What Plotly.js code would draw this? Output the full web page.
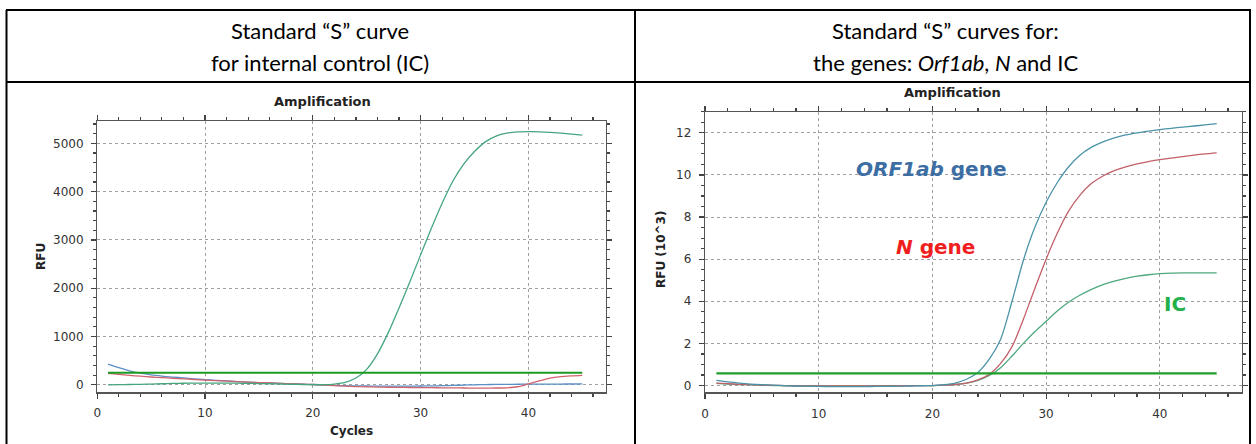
<!DOCTYPE html>
<html><head><meta charset="utf-8">
<script src="https://cdn.plot.ly/plotly-3.0.1.min.js"></script>
<style>html,body{margin:0;padding:0;background:#fff;}#chart{width:1256px;height:444px;}</style>
</head><body><div id="chart"></div>
<script>
const cycles = [1,2,3,4,5,6,7,8,9,10,11,12,13,14,15,16,17,18,19,20,21,22,23,24,25,26,27,28,29,30,31,32,33,34,35,36,37,38,39,40,41,42,43,44,45];
const thresholdCycles = [1, 45];

// Left chart (RFU)
const leftIC = [0,3,6,10,15,22,28,32,35,36,36,35,33,30,26,22,17,12,7,3,2,15,50,140,320,640,1080,1590,2130,2690,3240,3760,4220,4570,4830,5030,5150,5210,5235,5240,5238,5228,5212,5192,5170];
const leftBlue = [430,355,290,240,205,180,160,142,125,108,93,80,68,57,47,38,29,21,13,6,-3,-12,-18,-22,-25,-27,-28,-28,-27,-25,-22,-18,-12,-6,0,5,8,10,12,13,14,15,16,17,18];
const leftRed = [238,215,195,178,162,148,135,122,110,98,87,76,66,56,47,38,30,22,14,6,-5,-18,-28,-36,-42,-47,-50,-53,-56,-58,-60,-62,-64,-66,-67,-67,-66,-62,-40,20,80,140,170,185,195];
const leftThreshold = [250, 250];

// Right chart (RFU x10^3)
const rightORF1ab = [0.25,0.18,0.12,0.07,0.04,0.02,0.0,-0.02,-0.03,-0.04,-0.05,-0.05,-0.05,-0.05,-0.04,-0.04,-0.03,-0.02,-0.01,0.0,0.04,0.12,0.3,0.62,1.25,2.2,4.0,5.95,7.5,8.7,9.65,10.4,10.95,11.32,11.57,11.76,11.9,12.0,12.08,12.15,12.21,12.27,12.32,12.37,12.43];
const rightN = [0.12,0.09,0.06,0.04,0.02,0.01,0.0,-0.01,-0.02,-0.02,-0.02,-0.02,-0.02,-0.02,-0.02,-0.02,-0.01,-0.01,0.0,0.0,0.02,0.05,0.12,0.27,0.53,1.05,1.85,3.15,4.6,6.0,7.25,8.3,9.05,9.6,9.95,10.2,10.38,10.52,10.63,10.72,10.8,10.87,10.94,11.0,11.05];
const rightIC = [0.1,0.07,0.05,0.03,0.01,0.0,-0.01,-0.02,-0.02,-0.02,-0.02,-0.02,-0.02,-0.02,-0.02,-0.01,-0.01,0.0,0.0,0.0,0.02,0.05,0.12,0.25,0.48,0.85,1.4,2.0,2.55,3.05,3.55,3.97,4.3,4.57,4.79,4.96,5.09,5.19,5.26,5.31,5.34,5.35,5.35,5.35,5.35];
const rightThreshold = [0.58, 0.58];

const headerLeft = ['Standard “S” curve', 'for internal control (IC)'];
const headerRight = ['Standard “S” curves for:', 'the genes: <i>Orf1ab</i>, <i>N</i> and IC'];

const W = 1256, H = 444;
const px = v => v / W;
const py = v => 1 - v / H;

function ln(x, y, color, xa, ya, width) {
  return {x: x, y: y, xaxis: xa, yaxis: ya, type: 'scatter', mode: 'lines',
    line: {color: color, width: width || 1.3, shape: 'spline', smoothing: 0.8}, hoverinfo: 'skip', showlegend: false};
}

const data = [
  ln(cycles, leftBlue, '#5b8fc6', 'x', 'y'),
  ln(cycles, leftRed, '#d0646e', 'x', 'y'),
  ln(cycles, leftIC, '#45a57e', 'x', 'y'),
  {x: thresholdCycles, y: leftThreshold, xaxis: 'x', yaxis: 'y', type: 'scatter', mode: 'lines', line: {color: '#1c9a22', width: 2.2}, showlegend: false, hoverinfo: 'skip'},
  ln(cycles, rightIC, '#4fa87e', 'x2', 'y2'),
  ln(cycles, rightN, '#c2606a', 'x2', 'y2'),
  ln(cycles, rightORF1ab, '#4b93a8', 'x2', 'y2'),
  {x: thresholdCycles, y: rightThreshold, xaxis: 'x2', yaxis: 'y2', type: 'scatter', mode: 'lines', line: {color: '#1f9e2a', width: 2.2}, showlegend: false, hoverinfo: 'skip'}
];

const tickFont = {family: 'DejaVu Sans, Arial', size: 12, color: '#333'};
function axisBase(extra) {
  return Object.assign({
    showline: true, linecolor: '#555', linewidth: 1.2, mirror: 'allticks',
    ticks: 'outside', ticklen: 5, tickcolor: '#444', tickwidth: 1.2,
    showgrid: true, gridcolor: '#a0a0a0', griddash: 'dot', gridwidth: 1,
    zeroline: false, tickfont: tickFont, fixedrange: true
  }, extra);
}

const layout = {
  width: W, height: H,
  margin: {l: 0, r: 0, t: 0, b: 0},
  paper_bgcolor: '#fff', plot_bgcolor: '#fff',
  showlegend: false,
  xaxis: axisBase({domain: [px(97.2), px(606)], range: [0, 47.2], anchor: 'y', tick0: 0, dtick: 10, ticklabelstandoff: 4,
    minor: {dtick: 2, ticklen: 3, ticks: 'outside', tickcolor: '#444', showgrid: false}}),
  yaxis: axisBase({domain: [1 - 392.3 / H, 1 - 120.7 / H], range: [-155, 5468], anchor: 'x', tick0: 0, dtick: 1000, ticklabelstandoff: 5,
    minor: {dtick: 200, ticklen: 3, ticks: 'outside', tickcolor: '#444', showgrid: false}}),
  xaxis2: axisBase({domain: [px(705), px(1241.7)], range: [0, 47.2], anchor: 'y2', tick0: 0, dtick: 10, ticklabelstandoff: 5,
    minor: {dtick: 2, ticklen: 3, ticks: 'outside', tickcolor: '#444', showgrid: false}}),
  yaxis2: axisBase({domain: [1 - 392.3 / H, 1 - 111.7 / H], range: [-0.32, 13.0], anchor: 'x2', tick0: 0, dtick: 2, ticklabelstandoff: 5,
    minor: {dtick: 0.5, ticklen: 3, ticks: 'outside', tickcolor: '#444', showgrid: false}}),
  shapes: [
    {type: 'line', xref: 'paper', yref: 'paper', x0: px(6), x1: px(1251), y0: py(10), y1: py(10), line: {color: '#000', width: 2}},
    {type: 'line', xref: 'paper', yref: 'paper', x0: px(6), x1: px(1251), y0: py(82), y1: py(82), line: {color: '#000', width: 2}},
    {type: 'line', xref: 'paper', yref: 'paper', x0: px(6.5), x1: px(6.5), y0: py(10), y1: 0, line: {color: '#000', width: 2}},
    {type: 'line', xref: 'paper', yref: 'paper', x0: px(635), x1: px(635), y0: py(10), y1: 0, line: {color: '#000', width: 2}},
    {type: 'line', xref: 'paper', yref: 'paper', x0: px(1250), x1: px(1250), y0: py(10), y1: 0, line: {color: '#000', width: 2}}
  ],
  annotations: [
    {text: headerLeft[0], xref: 'paper', yref: 'paper', x: px(320), y: py(31), showarrow: false, xanchor: 'center', yanchor: 'middle', font: {family: 'Lato, Open Sans', size: 22, color: '#000'}},
    {text: headerLeft[1], xref: 'paper', yref: 'paper', x: px(320), y: py(62), showarrow: false, xanchor: 'center', yanchor: 'middle', font: {family: 'Lato, Open Sans', size: 22, color: '#000'}},
    {text: headerRight[0], xref: 'paper', yref: 'paper', x: px(945), y: py(31), showarrow: false, xanchor: 'center', yanchor: 'middle', font: {family: 'Lato, Open Sans', size: 22, color: '#000'}},
    {text: headerRight[1], xref: 'paper', yref: 'paper', x: px(945), y: py(62), showarrow: false, xanchor: 'center', yanchor: 'middle', font: {family: 'Lato, Open Sans', size: 22, color: '#000'}},
    {text: '<b>Amplification</b>', xref: 'paper', yref: 'paper', x: px(322), y: py(101.5), showarrow: false, xanchor: 'center', yanchor: 'middle', font: {family: 'DejaVu Sans, Arial', size: 13, color: '#222'}},
    {text: '<b>Amplification</b>', xref: 'paper', yref: 'paper', x: px(952), y: py(92), showarrow: false, xanchor: 'center', yanchor: 'middle', font: {family: 'DejaVu Sans, Arial', size: 13, color: '#222'}},
    {text: '<b>Cycles</b>', xref: 'paper', yref: 'paper', x: px(351), y: py(431), showarrow: false, xanchor: 'center', yanchor: 'middle', font: {family: 'DejaVu Sans, Arial', size: 12, color: '#222'}},
    {text: '<b>RFU</b>', xref: 'paper', yref: 'paper', x: px(41), y: py(257), textangle: -90, showarrow: false, xanchor: 'center', yanchor: 'middle', font: {family: 'DejaVu Sans, Arial', size: 12, color: '#222'}},
    {text: '<b>RFU (10^3)</b>', xref: 'paper', yref: 'paper', x: px(661), y: py(250), textangle: -90, showarrow: false, xanchor: 'center', yanchor: 'middle', font: {family: 'DejaVu Sans, Arial', size: 12, color: '#222'}},
    {text: '<b><i>ORF1ab</i> gene</b>', xref: 'x2', yref: 'y2', x: 19.9, y: 10.26, showarrow: false, xanchor: 'center', yanchor: 'middle', font: {family: 'DejaVu Sans', size: 20, color: '#3d6ea3'}},
    {text: '<b><i>N</i> gene</b>', xref: 'x2', yref: 'y2', x: 20.3, y: 6.59, showarrow: false, xanchor: 'center', yanchor: 'middle', font: {family: 'DejaVu Sans', size: 20, color: '#f01e1e'}},
    {text: '<b>IC</b>', xref: 'x2', yref: 'y2', x: 41.3, y: 3.85, showarrow: false, xanchor: 'center', yanchor: 'middle', font: {family: 'DejaVu Sans', size: 20, color: '#22b04a'}}
  ]
};

Plotly.newPlot('chart', data, layout, {staticPlot: true, displayModeBar: false});
</script>
</body></html>
